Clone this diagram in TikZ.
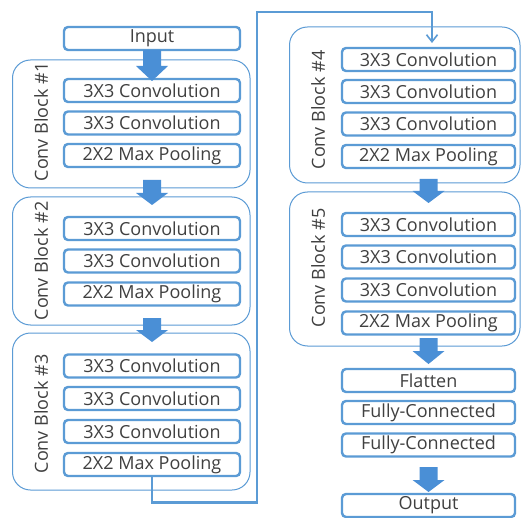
\documentclass[tikz,border=0pt]{standalone}
\usepackage{fontspec}
\setmainfont{Open Sans}
\usetikzlibrary{arrows.meta}
\definecolor{boxblue}{HTML}{5B9BD5}
\definecolor{arrowblue}{HTML}{4A8FD6}
\definecolor{txt}{HTML}{404040}
\tikzset{
  layerbox/.style={draw=boxblue, line width=2.4pt, rounded corners=4pt, fill=white,
    minimum width=176pt, minimum height=23pt, inner sep=0pt, text=txt,
    font=\fontsize{18}{20}\selectfont},
  rlayerbox/.style={layerbox, minimum width=173pt},
  blockframe/.style={draw=boxblue, line width=1pt, rounded corners=18pt},
  blocklabel/.style={rotate=90, text=txt, font=\fontsize{18}{20}\selectfont, inner sep=0pt},
  fatarrow/.style={fill=arrowblue, draw=none},
  link/.style={draw=boxblue, line width=2.4pt, -{Straight Barb[length=7pt,width=11pt,line width=1.6pt]}}
}
\newcommand{\fatdown}[4]{% x, shaft top, head base, tip
  \fill[fatarrow] (#1-9,#2) -- (#1+9,#2) -- (#1+9,#3) -- (#1+16,#3) -- (#1,#4) -- (#1-16,#3) -- (#1-9,#3) -- cycle;}
\begin{document}
\begin{tikzpicture}[x=1pt,y=-1pt]
\useasboundingbox (0,0) rectangle (521,518);
\fill[white] (0,0) rectangle (521,518);
% block frames
\draw[blockframe] (12.5,60) rectangle (250,188);
\draw[blockframe] (12.5,197) rectangle (250,325);
\draw[blockframe] (12.5,333) rectangle (250,490);
\draw[blockframe] (289.5,27) rectangle (520,183);
\draw[blockframe] (289.5,192) rectangle (520,346);
% labels
\node[blocklabel] (l1) at (41,122) {Conv Block \#1};
\node[blocklabel] (l2) at (41,261) {Conv Block \#2};
\node[blocklabel] (l3) at (41,414) {Conv Block \#3};
\node[blocklabel] (l4) at (318,110) {Conv Block \#4};
\node[blocklabel] (l5) at (318,268) {Conv Block \#5};
% left column
\node[layerbox] (in) at (152,38.5) {Input};
\node[layerbox] (a1) at (152,90.5) {3X3 Convolution};
\node[layerbox] (a2) at (152,123) {3X3 Convolution};
\node[layerbox] (a3) at (152,155.5) {2X2 Max Pooling};
\node[layerbox] (b1) at (152,228.5) {3X3 Convolution};
\node[layerbox] (b2) at (152,261) {3X3 Convolution};
\node[layerbox] (b3) at (152,294) {2X2 Max Pooling};
\node[layerbox] (c1) at (152,366) {3X3 Convolution};
\node[layerbox] (c2) at (152,398.5) {3X3 Convolution};
\node[layerbox] (c3) at (152,431.5) {3X3 Convolution};
\node[layerbox] (c4) at (152,464.5) {2X2 Max Pooling};
% right column
\node[rlayerbox] (d1) at (428.5,59.5) {3X3 Convolution};
\node[rlayerbox] (d2) at (428.5,91.5) {3X3 Convolution};
\node[rlayerbox] (d3) at (428.5,124) {3X3 Convolution};
\node[rlayerbox] (d4) at (428.5,156.5) {2X2 Max Pooling};
\node[rlayerbox] (e1) at (428.5,224.5) {3X3 Convolution};
\node[rlayerbox] (e2) at (428.5,257) {3X3 Convolution};
\node[rlayerbox] (e3) at (428.5,290) {3X3 Convolution};
\node[rlayerbox] (e4) at (428.5,323) {2X2 Max Pooling};
\node[rlayerbox] (fl) at (428.5,380.5) {Flatten};
\node[rlayerbox] (fc1) at (428.5,412.5) {Fully-Connected};
\node[rlayerbox] (fc2) at (428.5,445) {Fully-Connected};
\node[rlayerbox] (out) at (428.5,505.5) {Output};
% fat arrows
\fatdown{152}{50}{66}{81}
\fatdown{152}{180}{193}{205}
\fatdown{152}{318}{330}{342}
\fatdown{428.5}{179}{191}{203}
\fatdown{428.5}{338}{351}{364}
\fatdown{428.5}{467}{480}{492}
% long connector
\coordinate (p1) at (152,502.5);
\coordinate (p2) at (257,502.5);
\coordinate (p3) at (257,12);
\coordinate (p4) at (432,12);
\coordinate (p5) at (432,43);
\draw[link] (c4.south) -- (p1) -- (p2) -- (p3) -- (p4) -- (p5);
\end{tikzpicture}
\end{document}
